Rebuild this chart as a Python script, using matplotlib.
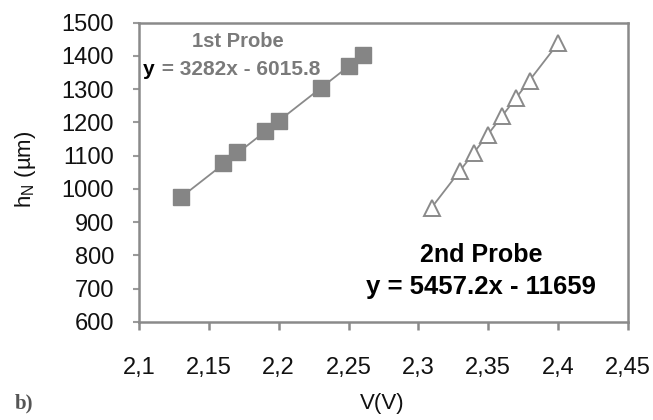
import matplotlib
matplotlib.use("Agg")
import matplotlib.pyplot as plt
import matplotlib.transforms as mtransforms
import numpy as np

# Probe 1: voltage (V) and height h_N (µm)
v_probe1 = [2.13, 2.16, 2.17, 2.19, 2.20, 2.23, 2.25, 2.26]
h_probe1 = [975, 1077, 1110, 1175, 1205, 1304, 1371, 1402]
fit1 = (3282.0, -6015.8)

# Probe 2
v_probe2 = [2.31, 2.33, 2.34, 2.35, 2.36, 2.37, 2.38, 2.40]
h_probe2 = [943, 1053, 1108, 1163, 1218, 1273, 1326, 1438]
fit2 = (5457.2, -11659.0)

x_ticks = [2.1, 2.15, 2.2, 2.25, 2.3, 2.35, 2.4, 2.45]
x_labels = ["2,1", "2,15", "2,2", "2,25", "2,3", "2,35", "2,4", "2,45"]
y_ticks = [600, 700, 800, 900, 1000, 1100, 1200, 1300, 1400, 1500]

W, H = 653, 420
fig = plt.figure(figsize=(W / 100, H / 100), dpi=100)
ax = fig.add_axes([139 / W, 1 - 322 / H, (628 - 139) / W, (322 - 22.7) / H])

grey = "#7a7a7a"
font = "Liberation Sans"

# Linear trendlines over each probe's voltage range
for (vs, (a, b)) in [(v_probe1, fit1), (v_probe2, fit2)]:
    xs = np.array([min(vs), max(vs)])
    ax.plot(xs, a * xs + b, color="#8a8a8a", lw=1.3, zorder=2)

ax.plot(v_probe1, h_probe1, ls="none", marker="s", ms=11, mfc="#858585",
        mec="#858585", zorder=3)
ax.plot(v_probe2, h_probe2, ls="none", marker="^", ms=11, mfc="white",
        mec="#8a8a8a", mew=1.4, zorder=3)

ax.set_xlim(2.1, 2.45)
ax.set_ylim(600, 1500)
ax.set_xticks(x_ticks)
ax.set_xticklabels(x_labels)
ax.set_yticks(y_ticks)

for s in ax.spines.values():
    s.set_color("#8a8a8a")
    s.set_linewidth(1.8)

ax.tick_params(axis="x", direction="out", length=6, width=1.8, color="#8a8a8a",
               labelsize=17, pad=19)
ax.tick_params(axis="y", direction="out", length=4, width=1.5, color="#9a9a9a",
               labelsize=17, pad=14)
for lab in ax.get_xticklabels() + ax.get_yticklabels():
    lab.set_family(font)
    lab.set_color("#111111")

fig.text(382 / W, 1 - 403 / H, "V(V)", fontsize=16, family=font,
         ha="center", va="center", color="#111111")
fig.text(26 / W, 1 - 169 / H, r"h$_\mathregular{N}$ (µm)", fontsize=16,
         family=font, rotation=90, ha="center", va="center", color="#111111")

# Trendline annotations
eq_size = 15
ax.text(2.171, 1442, "1st Probe", color=grey, fontsize=14.5, fontweight="bold",
        ha="center", va="center", family=font)
ax.text(2.1029, 1358, "y", color="black", fontsize=eq_size, fontweight="bold",
        ha="left", va="center", family=font)
shifted = mtransforms.offset_copy(ax.transData, fig=fig,
                                  x=0.6 * eq_size, y=0, units="points")
ax.text(2.1029, 1358, " = 3282x - 6015.8", color=grey, fontsize=eq_size,
        fontweight="bold", ha="left", va="center", family=font,
        transform=shifted)

ax.text(2.345, 802, "2nd Probe", color="black", fontsize=18, fontweight="bold",
        ha="center", va="center", family=font)
ax.text(2.345, 705, "y = 5457.2x - 11659", color="black", fontsize=18.5,
        fontweight="bold", ha="center", va="center", family=font)

fig.text(24 / W, 1 - 403 / H, "b)", fontsize=15, fontweight="bold",
         family="Liberation Serif", color="#555555", ha="center", va="center")

fig.savefig("out.png", dpi=100)
